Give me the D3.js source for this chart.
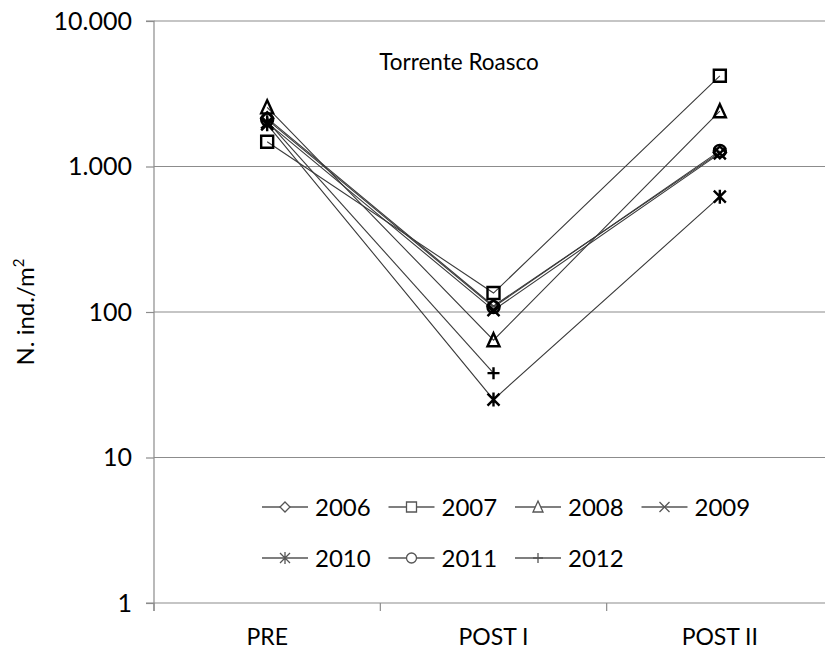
<!DOCTYPE html>
<html><head><meta charset="utf-8">
<script src="https://cdn.jsdelivr.net/npm/d3@7"></script>
<style>
body{margin:0;background:#fff;}
svg{display:block;font-family:Lato, "Open Sans", sans-serif;}
</style></head>
<body>
<svg id="chart" width="825" height="652"></svg>
<script>
// ---- data ----
const categories = ["PRE", "POST I", "POST II"];
const years = ["2006", "2007", "2008", "2009", "2010", "2011", "2012"];
const v2006 = [2150, 110, 1250];
const v2007 = [1480, 135, 4200];
const v2008 = [2550, 64, 2400];
const v2009 = [2000, 103, 1230];
const v2010 = [1950, 25, 620];
const v2011 = [2100, 108, 1280];
const v2012 = [2050, 38, null];
const yTicks = [1, 10, 100, 1000, 10000];
const title = "Torrente Roasco";

const seriesValues = [v2006, v2007, v2008, v2009, v2010, v2011, v2012];
const shapes = ["diamond", "square", "triangle", "x", "asterisk", "circle", "plus"];

(function () {
const svg = d3.select("#chart");
const W = 825, H = 652;
const pL = 154, pT = 21, pB = 603, pR = 833;

const x = d3.scaleBand().domain(categories).range([pL, pR]).padding(0);
const y = d3.scaleLog().domain([1, 10000]).range([pB, pT]);
const cx = c => x(c) + x.bandwidth() / 2;

const loc = d3.formatLocale({decimal: ",", thousands: ".", grouping: [3], currency: ["", ""]});
const fmt = loc.format(",");

const grid = "#8c8c8c";

// gridlines
svg.append("g").selectAll("line").data(yTicks.filter(t => t > 1)).join("line")
  .attr("x1", pL).attr("x2", W).attr("y1", d => y(d)).attr("y2", d => y(d))
  .attr("stroke", grid).attr("stroke-width", 1.2);

// y axis
const yAxis = d3.axisLeft(y).tickValues(yTicks).tickFormat(fmt).tickSize(8).tickPadding(14);
const gy = svg.append("g").attr("transform", `translate(${pL},0)`).call(yAxis);
gy.select(".domain").attr("stroke", grid).attr("stroke-width", 1.2).attr("d", `M-8,${pT}H0V${pB + 8}`);
gy.selectAll(".tick line").attr("stroke", grid).attr("stroke-width", 1.2);
gy.selectAll(".tick text").attr("fill", "#000").attr("font-size", 25).attr("font-family", "Lato");

// x axis
svg.append("line").attr("x1", pL - 8).attr("x2", W).attr("y1", pB).attr("y2", pB)
  .attr("stroke", grid).attr("stroke-width", 1.2);
svg.append("g").selectAll("line").data(categories).join("line")
  .attr("x1", d => x(d)).attr("x2", d => x(d)).attr("y1", pB).attr("y2", pB + 8)
  .attr("stroke", grid).attr("stroke-width", 1.2);
svg.append("g").selectAll("text").data(categories).join("text")
  .attr("x", d => cx(d)).attr("y", 645).attr("text-anchor", "middle")
  .attr("font-size", 23).attr("fill", "#000").text(d => d);

// y axis title
const yt = svg.append("text").attr("transform", "translate(34,312) rotate(-90)")
  .attr("text-anchor", "middle").attr("font-size", 24).attr("fill", "#000");
yt.append("tspan").text("N. ind./m");
yt.append("tspan").attr("font-size", 15).attr("dy", -10).text("2");

// title
svg.append("text").attr("x", 459).attr("y", 70).attr("text-anchor", "middle")
  .attr("font-size", 22.5).attr("fill", "#000").text(title);

// marker path
function markerPath(shape, s) {
  const h = s / 2;
  switch (shape) {
    case "diamond": return `M0,${-h}L${h},0L0,${h}L${-h},0Z`;
    case "square": return `M${-h},${-h}H${h}V${h}H${-h}Z`;
    case "triangle": return `M0,${-h - 1}L${h},${h}L${-h},${h}Z`;
    case "x": return `M${-h},${-h}L${h},${h}M${h},${-h}L${-h},${h}`;
    case "asterisk": return `M${-h},${-h}L${h},${h}M${h},${-h}L${-h},${h}M0,${-h - 1}V${h + 1}`;
    case "circle": return `M${h},0A${h},${h} 0 1,1 ${-h},0A${h},${h} 0 1,1 ${h},0Z`;
    case "plus": return `M${-h},0H${h}M0,${-h}V${h}`;
  }
}

const line = d3.line().defined(d => d.v != null).x(d => cx(d.c)).y(d => y(d.v));
const data = years.map((yr, i) => ({
  year: yr, shape: shapes[i],
  pts: categories.map((c, j) => ({c, v: seriesValues[i][j]}))
}));

const gs = svg.append("g");
data.forEach(s => {
  gs.append("path").attr("d", line(s.pts)).attr("fill", "none")
    .attr("stroke", "#3a3a3a").attr("stroke-width", 1.1);
});
data.forEach(s => {
  gs.append("g").selectAll("path").data(s.pts.filter(p => p.v != null)).join("path")
    .attr("transform", p => `translate(${cx(p.c)},${y(p.v)})`)
    .attr("d", markerPath(s.shape, 12))
    .attr("fill", "none").attr("stroke", "#000").attr("stroke-width", 2.4);
});

// legend
const legX = [262, 388.5, 515, 641.5];
const legY = [507, 558];
data.forEach((s, i) => {
  const col = i < 4 ? i : i - 4, row = i < 4 ? 0 : 1;
  const g = svg.append("g").attr("transform", `translate(${legX[col]},${legY[row]})`);
  g.append("line").attr("x1", 0).attr("x2", 46).attr("y1", 0).attr("y2", 0)
    .attr("stroke", "#555").attr("stroke-width", 1.3);
  g.append("path").attr("transform", "translate(23,0)").attr("d", markerPath(s.shape, 10))
    .attr("fill", "#fff").attr("stroke", "#555").attr("stroke-width", 1.3);
  g.append("text").attr("x", 53).attr("y", 0).attr("dy", "0.36em")
    .attr("font-size", 24).attr("fill", "#000").text(s.year);
});
})();
</script>
</body></html>
